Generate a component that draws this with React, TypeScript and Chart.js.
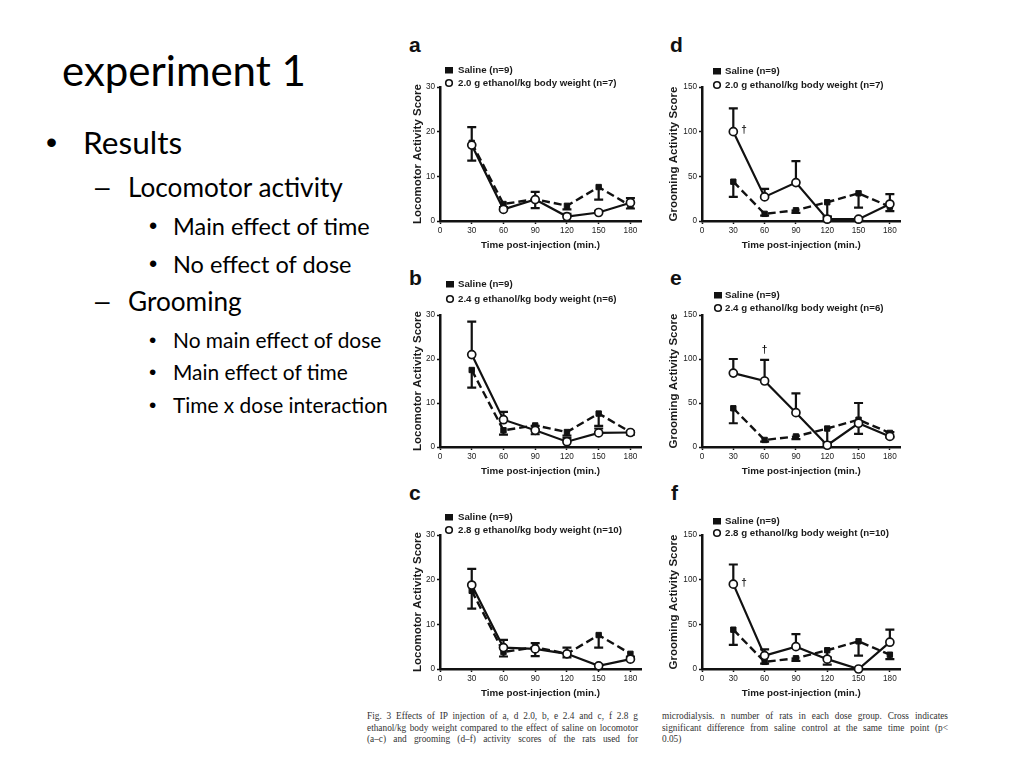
import React, { useEffect, useRef } from "react";
import { Chart, registerables } from "chart.js";

Chart.register(...registerables);

// ---------- data ----------
const timePoints = [30, 60, 90, 120, 150, 180];
const xTickValues = [0, 30, 60, 90, 120, 150, 180];
const locoTickValues = [0, 10, 20, 30];
const groomTickValues = [0, 50, 100, 150];

const salineLabel = "Saline (n=9)";
const ethanolLabels = [
  "2.0 g ethanol/kg body weight (n=7)",
  "2.4 g ethanol/kg body weight (n=6)",
  "2.8 g ethanol/kg body weight (n=10)",
];

// locomotor activity score
const locoSaline = [17.5, 3.8, 4.9, 3.4, 7.6, 3.4];
const locoSalineErr = [4.0, 1.0, 2.0, 0.8, 2.8, 0.6];
const locoEthanol20 = [17.0, 2.6, 4.8, 1.0, 1.9, 4.1];
const locoEthanol20Err = [4.0, 0.5, 1.7, 0.6, 0.4, 1.0];
const locoEthanol24 = [21.0, 6.2, 3.8, 1.2, 3.2, 3.3];
const locoEthanol24Err = [7.5, 1.8, 1.0, 0.8, 1.0, 0.3];
const locoEthanol28 = [18.8, 4.8, 4.5, 3.4, 0.7, 2.2];
const locoEthanol28Err = [3.6, 1.7, 1.3, 1.4, 0.3, 0.4];

// grooming activity score
const groomSaline = [44, 8, 12, 21, 31, 16];
const groomSalineErr = [17, 2, 3, 16, 16, 5];
const groomEthanol20 = [100, 27, 43, 2, 2, 19];
const groomEthanol20Err = [26, 9, 24, 3, 1, 11];
const groomEthanol24 = [84, 75, 39, 2, 27, 12];
const groomEthanol24Err = [16, 24, 22, 3, 23, 5];
const groomEthanol28 = [95, 15, 25, 11, 0, 30];
const groomEthanol28Err = [22, 7, 14, 2, 0.5, 14];

// significant time points (cross) per grooming panel
const crossD = [0];
const crossE = [1];
const crossF = [0];

const slideTitle = "experiment 1";
const bulletLines = [
  { level: 1, text: "Results" },
  { level: 2, text: "Locomotor activity" },
  { level: 3, text: "Main effect of time" },
  { level: 3, text: "No effect of dose" },
  { level: 2, text: "Grooming" },
  { level: 3, text: "No main effect of dose" },
  { level: 3, text: "Main effect of time" },
  { level: 3, text: "Time x dose interaction" },
];
const captionLeft = [
  "Fig. 3 Effects of IP injection of a, d 2.0, b, e 2.4 and c, f 2.8 g",
  "ethanol/kg body weight compared to the effect of saline on locomotor",
  "(a–c) and grooming (d–f) activity scores of the rats used for",
];
const captionRight = [
  "microdialysis. n number of rats in each dose group. Cross indicates",
  "significant difference from saline control at the same time point (p<",
  "0.05)",
];

// ---------- layout ----------
const AXIS_FONT = "'Liberation Sans', Arial, sans-serif";
const PAD_TOP = 57;
const X_H = 30;
const CANVAS_W = 250;
const PLOT_W = 201;

type PanelDef = {
  letter: string;
  kind: "loco" | "groom";
  sal: number[];
  salErr: number[];
  eth: number[];
  ethErr: number[];
  ethLabel: string;
  cross: number[];
  crossPlace: "right" | "above";
  left: number;
  yW: number;
  chartTop: number;
  chartH: number;
  legendY: number[];
  markerX: number;
  textX: number;
  letterX: number;
  letterBase: number;
};

const panels: PanelDef[] = [
  { letter: "a", kind: "loco", sal: locoSaline, salErr: locoSalineErr, eth: locoEthanol20, ethErr: locoEthanol20Err, ethLabel: ethanolLabels[0], cross: [], crossPlace: "right", left: 400, yW: 40, chartTop: 87, chartH: 134, legendY: [70, 83], markerX: 449, textX: 458, letterX: 409, letterBase: 52 },
  { letter: "b", kind: "loco", sal: locoSaline, salErr: locoSalineErr, eth: locoEthanol24, ethErr: locoEthanol24Err, ethLabel: ethanolLabels[1], cross: [], crossPlace: "right", left: 400, yW: 40, chartTop: 315, chartH: 132, legendY: [284, 299], markerX: 450, textX: 458, letterX: 409, letterBase: 285 },
  { letter: "c", kind: "loco", sal: locoSaline, salErr: locoSalineErr, eth: locoEthanol28, ethErr: locoEthanol28Err, ethLabel: ethanolLabels[2], cross: [], crossPlace: "right", left: 400, yW: 40, chartTop: 535, chartH: 134, legendY: [517, 530], markerX: 449, textX: 458, letterX: 409, letterBase: 500 },
  { letter: "d", kind: "groom", sal: groomSaline, salErr: groomSalineErr, eth: groomEthanol20, ethErr: groomEthanol20Err, ethLabel: ethanolLabels[0], cross: crossD, crossPlace: "right", left: 656, yW: 46, chartTop: 87, chartH: 134, legendY: [71, 85], markerX: 717, textX: 725, letterX: 670, letterBase: 52 },
  { letter: "e", kind: "groom", sal: groomSaline, salErr: groomSalineErr, eth: groomEthanol24, ethErr: groomEthanol24Err, ethLabel: ethanolLabels[1], cross: crossE, crossPlace: "above", left: 656, yW: 46, chartTop: 315, chartH: 132, legendY: [295, 308], markerX: 718, textX: 725, letterX: 670, letterBase: 285 },
  { letter: "f", kind: "groom", sal: groomSaline, salErr: groomSalineErr, eth: groomEthanol28, ethErr: groomEthanol28Err, ethLabel: ethanolLabels[2], cross: crossF, crossPlace: "right", left: 656, yW: 46, chartTop: 535, chartH: 134, legendY: [521, 533], markerX: 717, textX: 725, letterX: 671, letterBase: 500 },
];

// ---------- plugins ----------
const errorBarPlugin = {
  id: "errorBars",
  beforeDatasetsDraw(chart: any) {
    const { ctx } = chart;
    const xs = chart.scales.x;
    const ys = chart.scales.y;
    ctx.save();
    ctx.strokeStyle = "#111";
    ctx.lineWidth = 2.2;
    ctx.setLineDash([]);
    chart.data.datasets.forEach((ds: any) => {
      if (!ds.errors) return;
      ds.data.forEach((pt: any, i: number) => {
        const e = ds.errors[i];
        if (!e) return;
        const px = xs.getPixelForValue(pt.x);
        const y0 = ys.getPixelForValue(pt.y);
        const y1 = ys.getPixelForValue(pt.y + ds.errDir * e);
        ctx.beginPath();
        ctx.moveTo(px, y0);
        ctx.lineTo(px, y1);
        ctx.moveTo(px - 4.5, y1);
        ctx.lineTo(px + 4.5, y1);
        ctx.stroke();
      });
    });
    ctx.restore();
  },
};

const boxLegendPlugin = {
  id: "boxLegend",
  afterDraw(chart: any, _args: any, opts: any) {
    const { ctx } = chart;
    ctx.save();
    ctx.font = `bold 9.7px ${AXIS_FONT}`;
    ctx.textBaseline = "middle";
    chart.data.datasets.forEach((ds: any, i: number) => {
      const y = opts.rows[i];
      if (ds.pointStyle === "rect") {
        ctx.fillStyle = "#111";
        ctx.fillRect(opts.markerX - 4, y - 3, 8, 6.5);
      } else {
        ctx.beginPath();
        ctx.arc(opts.markerX, y, 3.3, 0, Math.PI * 2);
        ctx.fillStyle = "#fff";
        ctx.fill();
        ctx.lineWidth = 1.6;
        ctx.strokeStyle = "#111";
        ctx.stroke();
      }
      ctx.fillStyle = "#1a1a1a";
      ctx.fillText(ds.label, opts.textX, y + 0.5);
    });
    ctx.restore();
  },
};

const crossPlugin = {
  id: "crossMarks",
  afterDatasetsDraw(chart: any, _args: any, opts: any) {
    const ds = chart.data.datasets[1];
    if (!ds || !opts.items) return;
    const { ctx } = chart;
    const xs = chart.scales.x;
    const ys = chart.scales.y;
    ctx.save();
    ctx.font = `bold 10px ${AXIS_FONT}`;
    ctx.fillStyle = "#111";
    ctx.textBaseline = "middle";
    opts.items.forEach((idx: number) => {
      const pt = ds.data[idx];
      const px = xs.getPixelForValue(pt.x);
      if (opts.place === "above") {
        const top = ys.getPixelForValue(pt.y + ds.errors[idx]);
        ctx.textAlign = "center";
        ctx.fillText("†", px, top - 10);
      } else {
        ctx.textAlign = "left";
        ctx.fillText("†", px + 8, ys.getPixelForValue(pt.y) - 1);
      }
    });
    ctx.restore();
  },
};

function buildConfig(p: PanelDef): any {
  const isLoco = p.kind === "loco";
  const yTicks = isLoco ? locoTickValues : groomTickValues;
  const canvasTop = p.chartTop - PAD_TOP;
  const tickFont = { family: AXIS_FONT, size: 8.2, weight: "normal" as const };
  return {
    type: "line",
    data: {
      datasets: [
        {
          label: salineLabel,
          data: timePoints.map((t, i) => ({ x: t, y: p.sal[i] })),
          errors: p.salErr,
          errDir: -1,
          borderColor: "#111",
          borderWidth: 2.4,
          borderDash: [8, 4],
          pointStyle: "rect",
          pointRadius: 3.8,
          pointBackgroundColor: "#111",
          pointBorderColor: "#111",
          pointBorderWidth: 1,
          tension: 0,
          order: 1,
          clip: false,
        },
        {
          label: p.ethLabel,
          data: timePoints.map((t, i) => ({ x: t, y: p.eth[i] })),
          errors: p.ethErr,
          errDir: 1,
          borderColor: "#111",
          borderWidth: 2.2,
          pointStyle: "circle",
          pointRadius: 4,
          pointBackgroundColor: "#fff",
          pointBorderColor: "#111",
          pointBorderWidth: 1.7,
          tension: 0,
          order: 0,
          clip: false,
        },
      ],
    },
    options: {
      animation: false,
      responsive: false,
      events: [],
      layout: { padding: { top: PAD_TOP, left: 0, bottom: 0, right: CANVAS_W - p.yW - PLOT_W } },
      plugins: {
        legend: { display: false },
        tooltip: { enabled: false },
        boxLegend: {
          rows: p.legendY.map((y) => y - canvasTop),
          markerX: p.markerX - p.left,
          textX: p.textX - p.left,
        },
        crossMarks: { items: p.cross, place: p.crossPlace },
      },
      scales: {
        x: {
          type: "linear",
          min: 0,
          max: 190,
          afterBuildTicks: (s: any) => {
            s.ticks = xTickValues.map((v) => ({ value: v }));
          },
          afterFit: (s: any) => {
            s.height = X_H;
          },
          border: { display: true, color: "#111", width: 2.5 },
          grid: { display: true, drawOnChartArea: false, drawTicks: true, tickLength: 3, tickColor: "#111", tickWidth: 1.5 },
          ticks: { font: tickFont, color: "#222", padding: 1.5, maxRotation: 0, autoSkip: false },
          title: {
            display: true,
            text: "Time post-injection (min.)",
            font: { family: AXIS_FONT, size: 9.8, weight: "bold", lineHeight: 1.2 },
            color: "#1a1a1a",
            padding: { top: 0, bottom: 0 },
          },
        },
        y: {
          type: "linear",
          min: 0,
          max: isLoco ? 30 : 150,
          afterBuildTicks: (s: any) => {
            s.ticks = yTicks.map((v) => ({ value: v }));
          },
          afterFit: (s: any) => {
            s.width = p.yW;
          },
          border: { display: true, color: "#111", width: 2.5 },
          grid: { display: true, drawOnChartArea: false, drawTicks: true, tickLength: 3, tickColor: "#111", tickWidth: 1.5 },
          ticks: { font: tickFont, color: "#222", padding: 2, autoSkip: false },
          title: {
            display: true,
            text: isLoco ? "Locomotor Activity Score" : "Grooming Activity Score",
            font: { family: AXIS_FONT, size: 11.5, weight: "bold", lineHeight: 1.2 },
            color: "#1a1a1a",
            padding: { top: 11, bottom: 0 },
          },
        },
      },
    },
    plugins: [errorBarPlugin, boxLegendPlugin, crossPlugin],
  };
}

function Panel({ p }: { p: PanelDef }) {
  const ref = useRef<HTMLCanvasElement>(null);
  const canvasTop = p.chartTop - PAD_TOP;
  const canvasH = PAD_TOP + p.chartH + X_H;
  useEffect(() => {
    if (!ref.current) return;
    const chart = new Chart(ref.current, buildConfig(p));
    return () => chart.destroy();
  }, []);
  const letterSize = 21;
  return (
    <>
      <div
        style={{
          position: "absolute",
          left: p.letterX,
          top: p.letterBase - 0.8465 * letterSize,
          fontFamily: AXIS_FONT,
          fontWeight: "bold",
          fontSize: letterSize,
          lineHeight: 1,
          color: "#111",
        }}
      >
        {p.letter}
      </div>
      <canvas
        ref={ref}
        width={CANVAS_W}
        height={canvasH}
        style={{ position: "absolute", left: p.left, top: canvasTop, width: CANVAS_W, height: canvasH }}
      />
    </>
  );
}

const SLIDE_FONT = "Lato, 'Open Sans', sans-serif";
const lineBaselines = [155, 198, 235, 273, 312, 348, 380, 413];
const lineSizes = [31.6, 26.2, 23.5, 23.5, 26.2, 20.9, 20.9, 20.9];
const levelStyle: Record<number, { markX: number; textX: number; mark: string }> = {
  1: { markX: 46, textX: 83, mark: "•" },
  2: { markX: 95, textX: 128, mark: "–" },
  3: { markX: 149, textX: 173, mark: "•" },
};

export default function App() {
  const asc = 0.987;
  return (
    <div
      style={{
        position: "absolute",
        left: 0,
        top: 0,
        width: 1024,
        height: 768,
        background: "#fff",
        overflow: "hidden",
        fontFamily: SLIDE_FONT,
        color: "#000",
      }}
    >
      <div style={{ position: "absolute", left: 62, top: 86 - asc * 42, fontSize: 42, lineHeight: 1.2, whiteSpace: "nowrap" }}>
        {slideTitle}
      </div>
      {bulletLines.map((b, i) => {
        const st = levelStyle[b.level];
        const size = lineSizes[i];
        const top = lineBaselines[i] - asc * size;
        return (
          <React.Fragment key={i}>
            <div style={{ position: "absolute", left: st.markX, top, fontSize: size, lineHeight: 1.2, whiteSpace: "nowrap", fontFamily: "Arial, 'Liberation Sans', sans-serif" }}>
              {st.mark}
            </div>
            <div style={{ position: "absolute", left: st.textX, top, fontSize: size, lineHeight: 1.2, whiteSpace: "nowrap" }}>
              {b.text}
            </div>
          </React.Fragment>
        );
      })}
      {panels.map((p) => (
        <Panel key={p.letter} p={p} />
      ))}
      {captionLeft.map((t, i) => (
        <div
          key={"l" + i}
          style={{
            position: "absolute",
            left: 367,
            width: 271,
            top: 711 + i * 11.5,
            fontFamily: "'Liberation Serif', 'Times New Roman', serif",
            fontSize: 9.3,
            lineHeight: "11px",
            textAlign: "justify",
            textAlignLast: "justify",
            color: "#333",
            whiteSpace: "nowrap",
          }}
        >
          {t}
        </div>
      ))}
      {captionRight.map((t, i) => (
        <div
          key={"r" + i}
          style={{
            position: "absolute",
            left: 662,
            width: 286,
            top: 711 + i * 11.5,
            fontFamily: "'Liberation Serif', 'Times New Roman', serif",
            fontSize: 9.3,
            lineHeight: "11px",
            textAlign: "justify",
            textAlignLast: i < captionRight.length - 1 ? "justify" : "left",
            color: "#333",
            whiteSpace: "nowrap",
          }}
        >
          {t}
        </div>
      ))}
    </div>
  );
}
